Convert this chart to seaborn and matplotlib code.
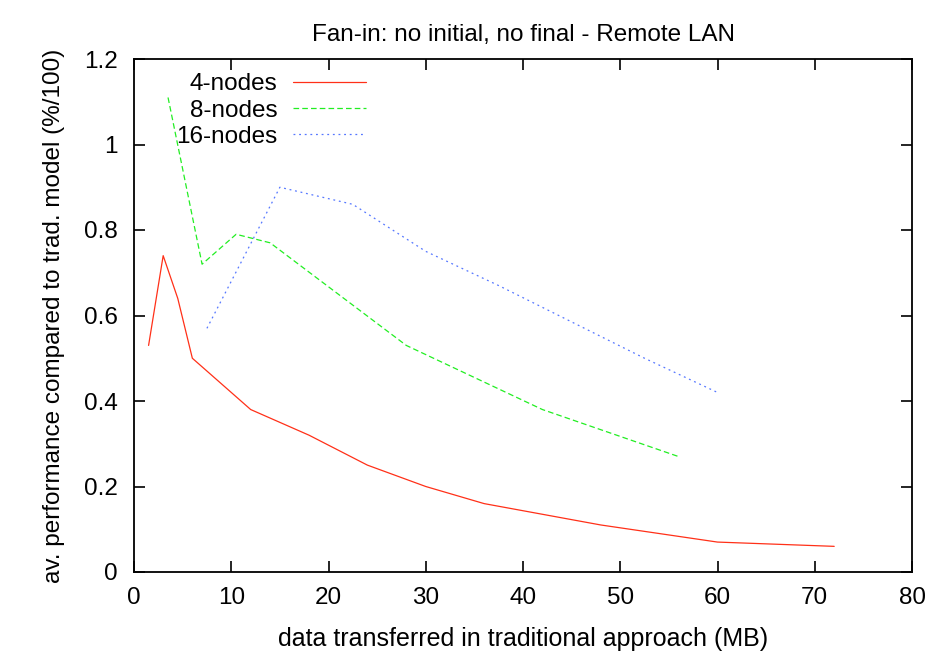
import numpy as np
import pandas as pd
import matplotlib
matplotlib.use("Agg")
import matplotlib.pyplot as plt
import seaborn as sns

# ---- data ----
x4 = [1.5, 3, 4.5, 6, 12, 18, 24, 30, 36, 42, 48, 60, 72]
y4 = [0.53, 0.74, 0.64, 0.50, 0.38, 0.32, 0.25, 0.20, 0.16, 0.135, 0.11, 0.07, 0.06]
x8 = [3.5, 7, 10.5, 14, 28, 42, 56]
y8 = [1.11, 0.72, 0.79, 0.77, 0.53, 0.38, 0.27]
x16 = [7.5, 15, 22.5, 30, 37.5, 45, 52.5, 60]
y16 = [0.57, 0.90, 0.86, 0.75, 0.67, 0.585, 0.50, 0.42]
labels = ["4-nodes", "8-nodes", "16-nodes"]
xticks = [0, 10, 20, 30, 40, 50, 60, 70, 80]
yticks = [0, 0.2, 0.4, 0.6, 0.8, 1, 1.2]
ytick_labels = ["0", "0.2", "0.4", "0.6", "0.8", "1", "1.2"]

sns.set_style("ticks")
plt.rcParams['font.family'] = ['Liberation Sans', 'DejaVu Sans']
plt.rcParams.update({'text.color': 'black', 'axes.labelcolor': 'black',
                     'xtick.color': 'black', 'ytick.color': 'black'})

FS = 17.5
fig = plt.figure(figsize=(9.34, 6.55), dpi=100)
ax = fig.add_axes([134/934, 1-572/655, (912-134)/934, (572-59)/655])

colors = ['#ff3018', '#22ee22', '#5577ff']
dashes = [None, (4.5, 2.5), (1.5, 3)]
series = [(x4, y4), (x8, y8), (x16, y16)]
for (xs, ys), lab, c, d in zip(series, labels, colors, dashes):
    df = pd.DataFrame({"x": xs, "y": ys})
    sns.lineplot(data=df, x="x", y="y", ax=ax, color=c, lw=0.9, label=lab)
    l = ax.get_lines()[-1]
    if d is not None:
        l.set_dashes(d)

ax.set_xlim(0, 80)
ax.set_ylim(0, 1.2)
ax.set_xticks(xticks)
ax.set_yticks(yticks)
ax.set_yticklabels(ytick_labels)
ax.tick_params(direction='in', length=8, width=1.2, labelsize=FS, colors='black',
               top=True, right=True)
ax.tick_params(axis='x', pad=11)
ax.tick_params(axis='y', pad=11.5)
for s in ax.spines.values():
    s.set_visible(True)
    s.set_linewidth(1.3)
    s.set_color('black')

ax.set_xlabel("data transferred in traditional approach (MB)", fontsize=18, labelpad=13)
ax.set_ylabel("av. performance compared to trad. model (%/100)", fontsize=FS, labelpad=14)
ax.set_title("Fan-in: no initial, no final - Remote LAN", fontsize=FS, pad=13)

leg = ax.legend(loc='upper right', bbox_to_anchor=(0.298, 0.972), frameon=False,
                markerfirst=False, fontsize=FS, handlelength=3.0, handletextpad=0.65,
                labelspacing=0.17, borderaxespad=0.0, borderpad=0.0)

fig.savefig("out.png", dpi=100)
